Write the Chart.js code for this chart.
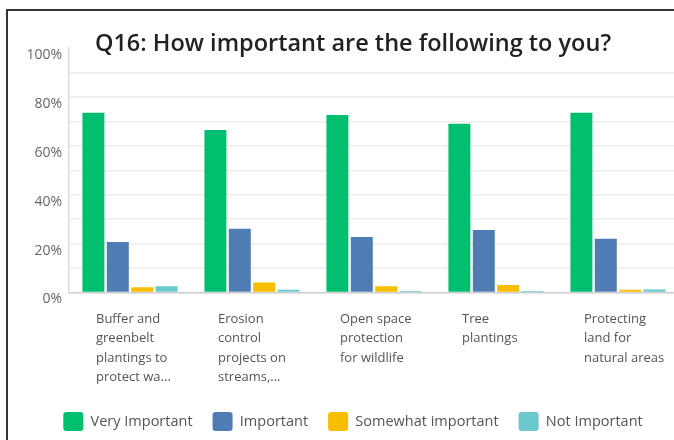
<!DOCTYPE html>
<html>
<head>
<meta charset="utf-8">
<script src="https://cdn.jsdelivr.net/npm/chart.js@4.4.1/dist/chart.umd.min.js"></script>
<style>
  html, body { margin: 0; padding: 0; background: #fff; overflow: hidden; width: 674px; height: 440px; }
  #frame { position: absolute; left: 6px; top: 9px; width: 800px; height: 600px; border-top: 2px solid #333; border-left: 2px solid #333; }
  #wrap { position: absolute; left: 8px; top: 11px; width: 696px; height: 436px; }
</style>
</head>
<body>
<div id="frame"></div>
<div id="wrap"><canvas id="grafq16"></canvas></div>
<script>
// etiquetas del eje x (ya recortadas como en la encuesta)
var categorias = [
    ["Buffer and", "greenbelt", "plantings to", "protect wa..."],
    ["Erosion", "control", "projects on", "streams,..."],
    ["Open space", "protection", "for wildlife"],
    ["Tree", "plantings"],
    ["Protecting", "land for", "natural areas"]
];

var series = ["Very Important", "Important", "Somewhat important", "Not Important"];
var colores = ["#00bf6f", "#507cb6", "#f9be00", "#6bc8cd"];

// porcentajes
var muyImportante = [73.6, 66.5, 72.7, 69.1, 73.6];
var importante = [20.7, 26.1, 22.7, 25.6, 22.0];
var algoImportante = [2.2, 4.1, 2.6, 3.1, 1.1];
var noImportante = [2.6, 1.1, 0.6, 0.6, 1.2];

var valores = [muyImportante, importante, algoImportante, noImportante];

var datasets = [];
for (var i in series){
    datasets.push({
        label: series[i],
        data: valores[i],
        backgroundColor: colores[i],
        borderWidth: 0,
        categoryPercentage: 0.8,
        barPercentage: 0.9
    });
}

var grafica = new Chart(document.getElementById("grafq16"), {
    type: "bar",
    data: {
        labels: categorias,
        datasets: datasets
    },
    options: {
        responsive: true,
        maintainAspectRatio: false,
        animation: false,
        layout: { padding: { left: 19, right: 25, top: 0, bottom: 6 } },
        scales: {
            x: {
                afterFit: function(scale){
                    scale.height = 99.5;
                    scale.paddingLeft = 0;
                    scale.paddingRight = 0;
                },
                grid: { display: false, drawTicks: false },
                border: { display: true, color: "#cfcfcf", width: 1.5 },
                ticks: {
                    autoSkip: false,
                    maxRotation: 0,
                    align: "start",
                    labelOffset: -34,
                    padding: 17,
                    color: "#555",
                    font: { family: "Open Sans", size: 13, lineHeight: 1.5 }
                }
            },
            y: {
                min: 0,
                max: 100,
                afterFit: function(scale){ scale.width = 42; },
                grid: {
                    drawTicks: false,
                    color: function(ctx){ return ctx.tick && ctx.tick.value === 100 ? "rgba(0,0,0,0)" : "#ececec"; },
                    lineWidth: 1.5
                },
                border: { display: true, color: "#dcdcdc", width: 1.5 },
                ticks: {
                    stepSize: 10,
                    padding: 7,
                    labelOffset: 7,
                    color: "#666",
                    font: { family: "Open Sans", size: 14 },
                    callback: function(v){ return v % 20 === 0 ? v + "%" : ""; }
                }
            }
        },
        plugins: {
            title: {
                display: true,
                text: "Q16: How important are the following to you?",
                color: "#222",
                font: { family: "Open Sans", size: 23.5, weight: "600", lineHeight: 1.2 },
                padding: { top: 19, bottom: -10 }
            },
            legend: {
                position: "bottom",
                labels: {
                    boxWidth: 20,
                    boxHeight: 19,
                    padding: 20,
                    useBorderRadius: true,
                    borderRadius: 3,
                    color: "#555",
                    font: { family: "Open Sans", size: 14.5 }
                }
            },
            tooltip: { enabled: false }
        }
    }
});
</script>
</body>
</html>
